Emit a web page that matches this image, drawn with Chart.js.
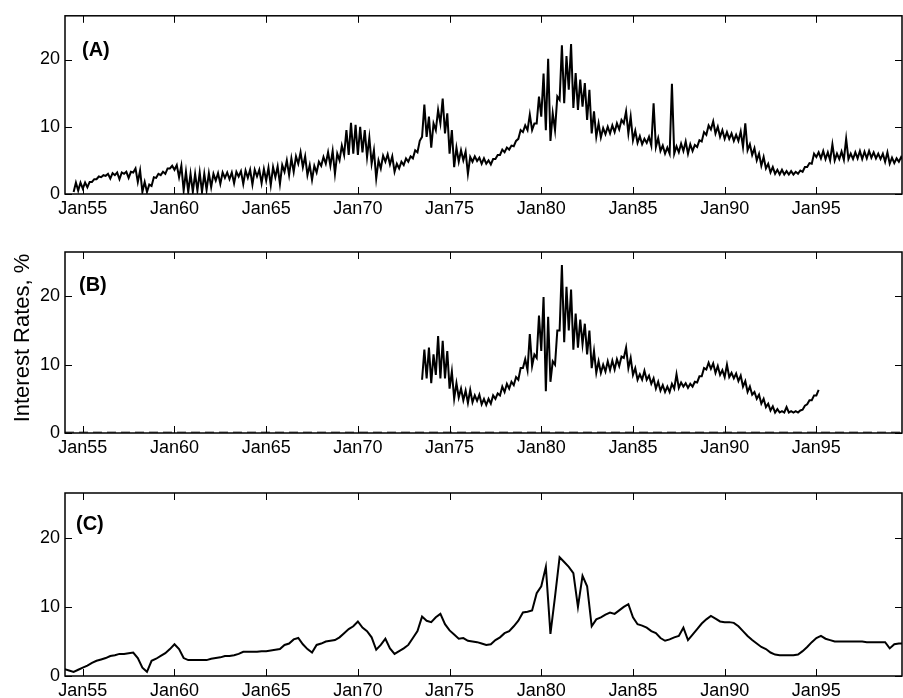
<!DOCTYPE html>
<html>
<head>
<meta charset="utf-8">
<title>Interest Rates</title>
<script src="https://cdn.jsdelivr.net/npm/chart.js@4.4.1/dist/chart.umd.min.js"></script>
<style>
  html, body { margin: 0; padding: 0; background: #fff; }
  #wrap { position: relative; width: 903px; height: 698px; overflow: hidden; }
  #wrap canvas { position: absolute; left: 0; top: 0; }
</style>
</head>
<body>
<div id="wrap">
  <canvas id="panelA" width="903" height="698"></canvas>
  <canvas id="panelB" width="903" height="698"></canvas>
  <canvas id="panelC" width="903" height="698"></canvas>
</div>
<script>
// x axis: decimal years, ticks every January of 55, 60, ... 95
const xTickYears = [1955, 1960, 1965, 1970, 1975, 1980, 1985, 1990, 1995];
const xTickLabels = ['Jan55', 'Jan60', 'Jan65', 'Jan70', 'Jan75', 'Jan80', 'Jan85', 'Jan90', 'Jan95'];
const yTicks = [0, 10, 20];
const yTickLabels = ['0', '10', '20'];

// (A) quarterly low / high envelope, from 1954.0
const aStart = 1954.0;
const aLo = [
  null, null, 0.3, 0.5,   0.8, 1.0, 1.8, 2.2,   2.5, 2.7, 2.3, 2.8,   2.2, 3.0, 2.4, 3.2,
  1.8, 0.3, 0.3, 1.2,     2.4, 2.8, 3.0, 3.8,   3.6, 2.5, 0.5, 0.3,   0.3, 0.5, 0.3, 0.6,
  1.0, 2.0, 1.5, 2.4,     2.2, 1.6, 2.6, 1.5,   2.4, 1.4, 2.6, 1.6,   2.0, 1.3, 2.5, 1.5,
  3.3, 2.8, 3.3, 4.5,     4.0, 2.8, 2.1, 3.2,   4.2, 4.5, 4.2, 3.0,   5.0, 5.8, 5.8, 6.0,
  5.8, 6.2, 5.5, 4.5,     2.3, 3.8, 4.8, 4.4,   3.3, 3.8, 4.3, 4.8,   5.3, 6.2, 8.5, 8.5,
  6.9, 9.5, 10.5, 9.0,    6.0, 4.0, 4.8, 5.0,   3.0, 4.8, 4.9, 4.5,   4.5, 4.4, 5.2, 5.8,
  6.2, 6.6, 7.1, 8.2,     9.2, 9.5, 9.5, 10.5,  11.5, 9.5, 7.9, 9.5,  14.0, 13.5, 15.5, 12.8,
  12.5, 13.0, 11.0, 9.0,  8.5, 8.4, 8.9, 9.0,   9.2, 9.6, 10.5, 9.0,  8.0, 7.6, 7.4, 7.6,
  7.2, 7.0, 6.4, 6.0,     6.0, 6.0, 6.2, 6.4,   6.0, 6.4, 7.0, 7.8,   8.8, 9.6, 9.0, 8.5,
  8.2, 8.2, 7.9, 7.9,     7.0, 6.5, 5.8, 5.0,   4.2, 3.8, 3.2, 3.0,   2.9, 2.9, 2.9, 2.9,
  3.0, 3.3, 4.0, 4.5,     5.5, 5.3, 5.2, 5.0,   5.0, 5.2, 5.1, 5.2,   5.2, 5.3, 5.2, 5.3,
  5.4, 5.3, 5.2, 4.8,     4.5, 4.6, 4.8, 5.0
];
const aHi = [
  null, null, 1.7, 1.7,   1.7, 1.8, 2.2, 2.6,   2.8, 3.0, 3.1, 3.2,   3.2, 3.3, 3.3, 3.8,
  3.5, 1.8, 1.4, 2.5,     3.0, 3.3, 3.8, 4.2,   4.3, 4.2, 3.3, 3.0,   3.0, 3.2, 3.0, 3.1,
  3.0, 3.1, 3.2, 3.2,     3.2, 3.3, 3.4, 3.5,   3.6, 3.6, 3.6, 3.7,   3.9, 4.0, 4.1, 4.3,
  5.0, 5.3, 5.6, 6.2,     5.6, 4.3, 4.2, 4.8,   5.5, 6.2, 6.4, 6.0,   7.2, 9.5, 10.6, 10.3,
  10.0, 9.5, 8.4, 6.5,    5.0, 5.7, 5.9, 5.6,   4.5, 4.8, 5.3, 5.6,   6.5, 7.9, 13.3, 11.5,
  10.5, 12.5, 14.2, 12.0, 9.5, 6.9, 6.5, 6.3,   5.5, 5.6, 5.4, 5.3,   5.0, 5.2, 5.8, 6.6,
  6.9, 7.2, 7.9, 9.5,     10.2, 11.8, 10.5, 14.5, 17.9, 20.1, 12.0, 14.5, 22.1, 20.5, 22.3, 18.0,
  17.0, 16.5, 15.5, 12.3, 10.5, 9.8, 10.0, 10.2, 10.5, 11.0, 12.3, 11.5, 9.4, 8.6, 8.2, 8.5,
  13.5, 8.3, 7.2, 6.9,    16.4, 7.1, 7.5, 7.8,  7.4, 7.3, 8.0, 9.2,   10.2, 10.8, 10.0, 9.5,
  9.2, 9.0, 8.8, 9.3,     10.5, 7.4, 6.8, 6.0,  5.5, 4.5, 4.0, 3.6,   3.6, 3.4, 3.4, 3.3,
  3.5, 4.0, 4.6, 6.0,     6.2, 6.4, 6.2, 7.4,   6.0, 6.3, 8.2, 6.0,   6.2, 6.4, 6.3, 6.4,
  6.2, 6.0, 6.0, 6.2,     5.4, 5.3, 5.5, 5.8
];

// (B) quarterly low / high envelope, from 1973.5 to 1995.0
const bStart = 1973.5;
const bLo = [
  7.8, 8.0,
  7.3, 8.5, 8.0, 8.0,     6.5, 5.0, 5.2, 4.8,   4.4, 4.5, 4.7, 4.2,   4.1, 4.3, 5.0, 5.5,
  6.0, 6.5, 7.0, 7.8,     9.5, 9.2, 9.8, 11.0,  12.0, 6.1, 7.5, 10.0, 15.0, 13.3, 15.0, 12.2,
  12.5, 13.0, 11.5, 9.5,  8.8, 8.8, 9.0, 9.2,   9.3, 9.8, 11.0, 9.5,  8.5, 7.8, 7.8, 7.8,
  7.2, 6.5, 6.2, 6.0,     6.0, 6.5, 6.6, 6.8,   6.6, 6.8, 7.4, 8.3,   9.3, 9.4, 8.8, 8.5,
  8.2, 8.2, 8.0, 7.6,     6.8, 6.0, 5.6, 5.0,   4.3, 3.8, 3.3, 3.0,   3.0, 3.0, 3.0, 3.0,
  3.0, 3.4, 4.2, 4.8,
  5.5
];
const bHi = [
  12.2, 12.5,
  11.5, 14.2, 13.5, 12.0, 9.0, 7.3, 6.5, 6.2,   6.3, 5.5, 5.6, 5.0,   5.0, 5.5, 5.8, 6.8,
  7.2, 7.5, 8.2, 9.5,     10.8, 14.5, 11.5, 17.2, 19.9, 17.0, 10.5, 15.0, 24.6, 21.4, 21.0, 17.5,
  16.6, 16.0, 15.0, 12.0, 10.5, 10.0, 10.5, 10.6, 10.8, 11.2, 12.5, 11.0, 9.5, 8.6, 9.1, 8.4,
  8.0, 7.5, 7.0, 6.8,     7.2, 8.6, 7.4, 7.3,   7.2, 7.5, 8.3, 9.5,   10.3, 10.2, 9.8, 9.2,
  10.0, 8.8, 8.7, 8.4,    7.6, 6.8, 6.0, 5.6,   5.0, 4.3, 3.9, 3.5,   3.2, 3.8, 3.2, 3.2,
  3.3, 4.0, 4.8, 5.5,
  6.3
];
const bMissing = 0; // series B shown as a dashed zero line where it is not reported

// (C) quarterly values, from 1954.0
const cStart = 1954.0;
const cVal = [
  1.0, 0.8, 0.6, 0.9,   1.2, 1.5, 1.9, 2.2,   2.4, 2.6, 2.9, 3.0,   3.2, 3.2, 3.3, 3.4,
  2.6, 1.2, 0.6, 2.2,   2.5, 2.9, 3.3, 3.9,   4.6, 3.9, 2.6, 2.3,   2.3, 2.3, 2.3, 2.3,
  2.5, 2.6, 2.7, 2.9,   2.9, 3.0, 3.2, 3.5,   3.5, 3.5, 3.5, 3.6,   3.6, 3.7, 3.8, 3.9,
  4.5, 4.7, 5.3, 5.5,   4.6, 3.9, 3.4, 4.5,   4.7, 5.0, 5.1, 5.2,   5.6, 6.2, 6.8, 7.2,
  7.9, 7.0, 6.5, 5.6,   3.8, 4.5, 5.4, 4.0,   3.2, 3.6, 4.0, 4.5,   5.5, 6.5, 8.6, 8.0,
  7.8, 8.5, 9.0, 7.5,   6.6, 6.0, 5.4, 5.5,   5.1, 5.0, 4.9, 4.7,   4.5, 4.6, 5.2, 5.6,
  6.2, 6.5, 7.2, 8.0,   9.2, 9.3, 9.5, 12.0,  13.0, 15.8, 6.1, 11.5, 17.2, 16.5, 15.8, 14.9,
  10.0, 14.5, 13.0, 7.2, 8.2, 8.5, 8.9, 9.2,  9.0, 9.5, 10.0, 10.4,  8.5, 7.5, 7.3, 7.0,
  6.5, 6.2, 5.5, 5.1,   5.3, 5.6, 5.8, 7.0,   5.2, 6.0, 6.8, 7.6,   8.2, 8.7, 8.3, 7.9,
  7.8, 7.8, 7.7, 7.2,   6.5, 5.8, 5.2, 4.7,   4.2, 3.9, 3.4, 3.1,   3.0, 3.0, 3.0, 3.0,
  3.1, 3.6, 4.2, 4.9,   5.5, 5.8, 5.4, 5.2,   5.0, 5.0, 5.0, 5.0,   5.0, 5.0, 5.0, 4.9,
  4.9, 4.9, 4.9, 4.9,   4.0, 4.6, 4.7, 4.7
];

const X_MIN = 1954.03, X_MAX = 1999.67;
const Y_MIN = 0, Y_MAX = 26.5;
const FONT = '"Liberation Sans", Arial, Helvetica, sans-serif';

Chart.defaults.font.family = FONT;
Chart.defaults.color = '#000';

// low/high pairs -> one jagged line
function zigzag(start, lo, hi) {
  const pts = [];
  lo.forEach((v, i) => {
    const t = start + i * 0.25;
    pts.push({ x: t, y: v }, { x: t + 0.125, y: hi[i] });
  });
  return pts;
}

function quarterly(start, vals) {
  return vals.map((v, i) => ({ x: start + i * 0.25, y: v }));
}

// MATLAB style box with inward ticks, panel letter and shared y title
const framePlugin = {
  id: 'frame',
  afterDraw(chart, args, opts) {
    const { ctx, chartArea: a, scales: { x, y } } = chart;
    ctx.save();
    ctx.strokeStyle = '#000';
    ctx.lineWidth = 1.5;
    ctx.strokeRect(a.left, a.top, a.right - a.left, a.bottom - a.top);

    const tl = 7;
    ctx.lineWidth = 1;
    ctx.beginPath();
    x.ticks.forEach(t => {
      const px = Math.round(x.getPixelForValue(t.value)) + 0.5;
      ctx.moveTo(px, a.bottom); ctx.lineTo(px, a.bottom - tl);
      ctx.moveTo(px, a.top); ctx.lineTo(px, a.top + tl);
    });
    y.ticks.forEach(t => {
      const py = Math.round(y.getPixelForValue(t.value)) + 0.5;
      ctx.moveTo(a.left, py); ctx.lineTo(a.left + tl, py);
      ctx.moveTo(a.right, py); ctx.lineTo(a.right - tl, py);
    });
    ctx.stroke();

    ctx.fillStyle = '#000';
    ctx.font = 'bold 20px ' + FONT;
    ctx.textBaseline = 'middle';
    ctx.textAlign = 'left';
    ctx.fillText(opts.label, opts.lx, opts.ly);

    if (opts.title) {
      ctx.translate(29, 338);
      ctx.rotate(-Math.PI / 2);
      ctx.textAlign = 'center';
      ctx.textBaseline = 'alphabetic';
      ctx.font = '22px ' + FONT;
      ctx.fillText(opts.title, 0, 0);
    }
    ctx.restore();
  }
};

function makePanel(id, datasets, top, bottom, frame) {
  const axisH = 22;
  return new Chart(document.getElementById(id), {
    type: 'line',
    data: { datasets },
    options: {
      responsive: false,
      animation: false,
      events: [],
      layout: { padding: { top: top, left: 0, right: 1, bottom: 698 - bottom - axisH } },
      plugins: { legend: { display: false }, tooltip: { enabled: false }, frame: frame },
      elements: { point: { radius: 0 }, line: { tension: 0 } },
      scales: {
        x: {
          type: 'linear', min: X_MIN, max: X_MAX,
          afterFit: s => { s.height = axisH; },
          afterBuildTicks: s => { s.ticks = xTickYears.map(v => ({ value: v })); },
          grid: { display: false, drawTicks: false },
          border: { display: false },
          ticks: {
            callback: (v, i) => xTickLabels[i],
            font: { size: 18 }, padding: 4, maxRotation: 0, autoSkip: false
          }
        },
        y: {
          min: Y_MIN, max: Y_MAX,
          afterFit: s => { s.width = 65; },
          afterBuildTicks: s => { s.ticks = yTicks.map(v => ({ value: v })); },
          grid: { display: false, drawTicks: false },
          border: { display: false },
          ticks: { callback: (v, i) => yTickLabels[i], font: { size: 18 }, padding: 5 }
        }
      }
    },
    plugins: [framePlugin]
  });
}

const lineStyle = { borderColor: '#000', borderWidth: 2, spanGaps: false, parsing: false };

makePanel('panelA', [
  Object.assign({ data: zigzag(aStart, aLo, aHi) }, lineStyle)
], 13, 194, { label: '(A)', lx: 82, ly: 50 });

makePanel('panelB', [
  { data: [{ x: X_MIN, y: bMissing }, { x: X_MAX, y: bMissing }],
    borderColor: '#666', borderWidth: 3, borderDash: [9, 5], parsing: false },
  Object.assign({ data: zigzag(bStart, bLo, bHi) }, lineStyle)
], 252, 433, { label: '(B)', lx: 79, ly: 285, title: 'Interest Rates, %' });

makePanel('panelC', [
  Object.assign({ data: quarterly(cStart, cVal) }, lineStyle)
], 493, 676, { label: '(C)', lx: 76, ly: 524 });
</script>
</body>
</html>
